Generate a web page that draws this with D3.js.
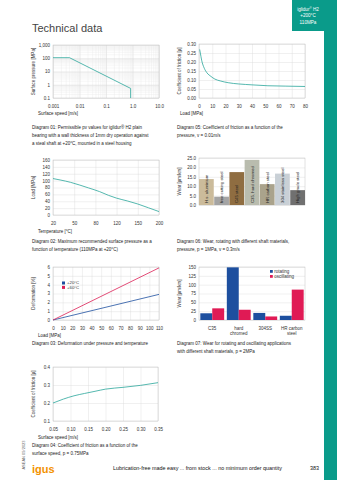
<!DOCTYPE html>
<html>
<head>
<meta charset="utf-8">
<script src="https://cdn.jsdelivr.net/npm/d3@7"></script>
<style>
  body { margin: 0; background: #fff; }
  svg { display: block; font-family: "Liberation Sans", Arial, sans-serif; }
</style>
</head>
<body>
<div id="container"></div>
<script>
/* CONSTANTS AND GLOBALS */
const width = 339;
const height = 480;
const teal = "#0a9b8a";
const lineTeal = "#2aa69a";
const gridCol = "#dadada";
const frameCol = "#c4c4c4";
const textCol = "#333";
const small = 4.5;

/* DATA */
// Diagram 01 - pv limit (log/log)
const pvSpeed = [0.001, 0.0042, 0.85, 0.85];
const pvPressure = [110, 110, 0.53, 0.1];
const pvXTicks = [0.001, 0.01, 0.1, 1, 10];
const pvXLabels = ["0.001", "0.01", "0.1", "1.0", "10.0"];
const pvYTicks = [0.1, 1, 10, 100, 1000];
const pvYLabels = ["0.1", "1", "10", "100", "1,000"];

// Diagram 02 - load vs temperature
const tempTicks = [20, 50, 80, 120, 150, 200];
const tempValues = [20, 30, 45, 58, 70, 88, 105, 120, 135, 150, 175, 200];
const tempLoad = [106, 102, 95, 87, 79, 68, 57, 49, 41, 32, 21, 10];
const tempLoadTicks = [0, 20, 40, 60, 80, 100, 120, 140, 160];

// Diagram 03 - deformation
const defLoad = [0, 110];
const def20 = [0, 2.9];
const def60 = [0, 5.9];
const defXTicks = [0, 10, 20, 30, 40, 50, 60, 70, 80, 90, 100, 110];
const defYTicks = [0, 1, 2, 3, 4, 5, 6];
const defSeries = ["+20°C", "+60°C"];

// Diagram 04 - friction vs speed
const speed04 = [0.05, 0.08, 0.11, 0.14, 0.17, 0.2, 0.25, 0.3, 0.35];
const cof04 = [0.2, 0.222, 0.24, 0.253, 0.265, 0.277, 0.287, 0.298, 0.313];
const speed04Ticks = [0.05, 0.10, 0.15, 0.20, 0.25, 0.30, 0.35];
const cof04Ticks = [0.1, 0.2, 0.3, 0.4];

// Diagram 05 - friction vs load
const load05 = [0.5, 1, 2, 4, 6, 9, 12, 16, 22, 30, 40, 52, 65, 80];
const cof05 = [0.27, 0.25, 0.21, 0.165, 0.14, 0.12, 0.105, 0.095, 0.085, 0.078, 0.073, 0.068, 0.066, 0.064];
const load05Ticks = [0, 10, 20, 30, 40, 50, 60, 70, 80];
const cof05Ticks = [0, 0.05, 0.10, 0.15, 0.20, 0.25, 0.30];

// Diagram 06 - wear, rotating, shaft materials
const shafts06 = ["H.s. aluminium", "free cutting steel", "C45 steel", "C35, hard chromed",
  "HR carbon steel", "304 stainless steel", "High grade steel"];
const wear06 = [13.8, 4.4, 17.5, 24, 11.1, 16.7, 7.9];
const wear06Ticks = [0, 5, 10, 15, 20, 25];

// Diagram 07 - wear rotating / oscillating
const shafts07 = ["C35", "hard chromed", "304SS", "HR carbon steel"];
const shafts07Lines = [["C35"], ["hard", "chromed"], ["304SS"], ["HR carbon", "steel"]];
const rotating07 = [19, 149, 20, 12];
const oscillating07 = [33, 29, 10, 86];
const wear07Ticks = [0, 25, 50, 75, 100, 125, 150];
const series07 = ["rotating", "oscillating"];

/* HTML ELEMENTS */
const svg = d3.select("#container")
  .append("svg")
  .attr("width", width)
  .attr("height", height);

// right teal strip + tab
svg.append("rect").attr("x", 324).attr("y", 0).attr("width", 13).attr("height", height).attr("fill", teal);
svg.append("rect").attr("x", 292).attr("y", 0).attr("width", 45).attr("height", 31).attr("fill", teal);
const tab = svg.append("g").attr("fill", "#fff").attr("font-size", 4.6).attr("text-anchor", "middle");
const t1 = tab.append("text").attr("x", 308).attr("y", 10.5).text("iglidur");
t1.append("tspan").attr("font-size", 3).attr("dy", -1.3).text("®");
t1.append("tspan").attr("dy", 1.3).text(" H2");
tab.append("text").attr("x", 308).attr("y", 17).text("+200°C");
tab.append("text").attr("x", 308).attr("y", 23.5).text("110MPa");

svg.append("text").attr("x", 32).attr("y", 32).attr("font-size", 11).attr("fill", "#444")
  .text("Technical data");

/* HELPERS */
function frame(x, y) {
  svg.append("rect")
    .attr("x", x.range()[0]).attr("y", y.range()[1])
    .attr("width", x.range()[x.range().length - 1] - x.range()[0])
    .attr("height", y.range()[0] - y.range()[1])
    .attr("fill", "none").attr("stroke", frameCol).attr("stroke-width", 0.5);
}

function vGrid(x, y, values, col) {
  svg.append("g")
    .attr("transform", `translate(0,${y.range()[0]})`)
    .call(d3.axisBottom(x).tickValues(values).tickSize(-(y.range()[0] - y.range()[1])).tickFormat(""))
    .call(g => g.select(".domain").remove())
    .call(g => g.selectAll("line").attr("stroke", col || gridCol).attr("stroke-width", 0.4));
}

function hGrid(x, y, values, col) {
  const x0 = x.range()[0], x1 = x.range()[x.range().length - 1];
  svg.append("g")
    .attr("transform", `translate(${x0},0)`)
    .call(d3.axisLeft(y).tickValues(values).tickSize(-(x1 - x0)).tickFormat(""))
    .call(g => g.select(".domain").remove())
    .call(g => g.selectAll("line").attr("stroke", col || gridCol).attr("stroke-width", 0.4));
}

function xLabels(x, y, values, fmt) {
  svg.append("g")
    .attr("transform", `translate(0,${y.range()[0]})`)
    .call(d3.axisBottom(x).tickValues(values).tickSize(0).tickPadding(7.2).tickFormat(fmt))
    .call(g => g.select(".domain").remove())
    .attr("font-size", small).attr("font-family", null)
    .call(g => g.selectAll("text").attr("fill", textCol));
}

function yLabels(x, y, values, fmt) {
  svg.append("g")
    .attr("transform", `translate(${x.range()[0]},0)`)
    .call(d3.axisLeft(y).tickValues(values).tickSize(0).tickPadding(3).tickFormat(fmt))
    .call(g => g.select(".domain").remove())
    .attr("font-size", small).attr("font-family", null)
    .call(g => g.selectAll("text").attr("fill", textCol));
}

function yTitle(xPos, y, label) {
  svg.append("text")
    .attr("transform", `translate(${xPos},${(y.range()[0] + y.range()[1]) / 2}) rotate(-90)`)
    .attr("text-anchor", "middle").attr("font-size", small).attr("fill", textCol)
    .text(label);
}

function plainText(xPos, yPos, lines, size) {
  lines.forEach((l, i) => {
    svg.append("text").attr("x", xPos).attr("y", yPos + i * 8.4)
      .attr("font-size", size || small).attr("fill", "#222").text(l);
  });
}

function curve(x, y, xs, ys, col) {
  svg.append("path")
    .datum(xs.map((d, i) => [d, ys[i]]))
    .attr("fill", "none").attr("stroke", col).attr("stroke-width", 0.8)
    .attr("d", d3.line().x(d => x(d[0])).y(d => y(d[1])).curve(d3.curveMonotoneX));
}

/* DIAGRAM 01 */
{
  const x = d3.scaleLog().domain([0.001, 10]).range([53, 159]);
  const y = d3.scaleLog().domain([0.1, 1000]).range([98, 45]);
  vGrid(x, y, x.ticks(), "#ececec");
  hGrid(x, y, y.ticks(), "#ececec");
  vGrid(x, y, pvXTicks);
  hGrid(x, y, pvYTicks);
  frame(x, y);
  xLabels(x, y, pvXTicks, (d, i) => pvXLabels[i]);
  yLabels(x, y, pvYTicks, (d, i) => pvYLabels[i]);
  svg.append("path")
    .datum(pvSpeed.map((d, i) => [d, pvPressure[i]]))
    .attr("fill", "none").attr("stroke", lineTeal).attr("stroke-width", 0.8)
    .attr("d", d3.line().x(d => x(d[0])).y(d => y(d[1])));
  yTitle(35, y, "Surface pressure [MPa]");
  plainText(38, 114.5, ["Surface speed [m/s]"]);
  plainText(32, 128.5, ["Diagram 01: Permissible pv values for iglidur® H2 plain",
    "bearing with a wall thickness of 1mm dry operation against",
    "a steal shaft at +20°C, mounted in a steel housing"]);
}

/* DIAGRAM 05 */
{
  const x = d3.scaleLinear().domain([0, 80]).range([199, 305]);
  const y = d3.scaleLinear().domain([0, 0.30]).range([98, 44]);
  vGrid(x, y, load05Ticks);
  hGrid(x, y, cof05Ticks);
  frame(x, y);
  xLabels(x, y, load05Ticks, d3.format("d"));
  yLabels(x, y, cof05Ticks, d3.format(".2f"));
  curve(x, y, load05, cof05, lineTeal);
  yTitle(181, y, "Coefficient of friction [µ]");
  plainText(180, 114.5, ["Load [MPa]"]);
  plainText(177, 128.5, ["Diagram 05: Coefficient of friction as a function of the",
    "pressure, v = 0.01m/s"]);
}

/* DIAGRAM 02 */
{
  const x = d3.scaleLinear().domain(tempTicks)
    .range(tempTicks.map((d, i) => 53 + i * (106 / (tempTicks.length - 1))));
  const y = d3.scaleLinear().domain([0, 160]).range([215, 160]);
  vGrid(x, y, tempTicks);
  hGrid(x, y, tempLoadTicks);
  frame(x, y);
  xLabels(x, y, tempTicks, d3.format("d"));
  yLabels(x, y, tempLoadTicks, d3.format("d"));
  curve(x, y, tempValues, tempLoad, lineTeal);
  yTitle(35, y, "Load [MPa]");
  plainText(38, 233, ["Temperature [°C]"]);
  plainText(32, 242.5, ["Diagram 02: Maximum recommended surface pressure as a",
    "function of temperature (110MPa at +20°C)"]);
}

/* DIAGRAM 06 */
{
  const x = d3.scaleBand().domain(shafts06).range([199, 305]).paddingInner(0.03);
  const y = d3.scaleLinear().domain([0, 25]).range([205, 158]);
  const color = d3.scaleOrdinal().domain(shafts06)
    .range(["#cbbb9b", "#a4a4a4", "#8f6d41", "#b9bcae", "#aaa38c", "#c9d0d6", "#707070"]);
  hGrid(d3.scaleLinear().range([199, 305]), y, wear06Ticks);
  frame(d3.scaleLinear().range([199, 305]), y);
  yLabels(d3.scaleLinear().range([199, 305]), y, wear06Ticks, d3.format(".1f"));
  svg.append("g").selectAll("rect")
    .data(shafts06)
    .join("rect")
    .attr("x", d => x(d))
    .attr("y", (d, i) => y(wear06[i]))
    .attr("width", x.bandwidth())
    .attr("height", (d, i) => y(0) - y(wear06[i]))
    .attr("fill", d => color(d));
  svg.append("g").selectAll("text")
    .data(shafts06)
    .join("text")
    .attr("transform", d => `translate(${x(d) + x.bandwidth() / 2 + 1.6},${y(0) - 2}) rotate(-90)`)
    .attr("font-size", 4.3).attr("fill", "#222")
    .text(d => d);
  yTitle(181, y, "Wear [µm/km]");
  plainText(177, 242.5, ["Diagram 06: Wear, rotating with different shaft materials,",
    "pressure, p = 1MPa, v = 0.3m/s"]);
}

/* DIAGRAM 03 */
{
  const x = d3.scaleLinear().domain([0, 110]).range([53, 159]);
  const y = d3.scaleLinear().domain([0, 6]).range([320, 267]);
  const color = d3.scaleOrdinal().domain(defSeries).range(["#1d4f9f", "#dc1f55"]);
  vGrid(x, y, defXTicks);
  hGrid(x, y, defYTicks);
  frame(x, y);
  xLabels(x, y, defXTicks, d3.format("d"));
  yLabels(x, y, defYTicks, d3.format("d"));
  curve(x, y, defLoad, def20, color(defSeries[0]));
  curve(x, y, defLoad, def60, color(defSeries[1]));
  const lg = svg.append("g").selectAll("g").data(defSeries).join("g")
    .attr("transform", (d, i) => `translate(62,${281.5 + i * 4.4})`);
  lg.append("rect").attr("width", 3).attr("height", 3).attr("fill", d => color(d));
  lg.append("text").attr("x", 5).attr("y", 2.8).attr("font-size", 4.3).attr("fill", textCol).text(d => d);
  yTitle(35, y, "Deformation [%]");
  plainText(38, 336.5, ["Load [MPa]"]);
  plainText(32, 344.5, ["Diagram 03: Deformation under pressure and temperature"]);
}

/* DIAGRAM 07 */
{
  const x = d3.scaleBand().domain(shafts07).range([199, 305]).paddingInner(0.1).paddingOuter(0.05);
  const xs = d3.scaleBand().domain(series07).range([0, x.bandwidth()]);
  const y = d3.scaleLinear().domain([0, 150]).range([320, 267]);
  const color = d3.scaleOrdinal().domain(series07).range(["#1d4f9f", "#e01a55"]);
  const lin = d3.scaleLinear().range([199, 305]);
  hGrid(lin, y, wear07Ticks);
  frame(lin, y);
  yLabels(lin, y, wear07Ticks, d3.format("d"));
  const values = { rotating: rotating07, oscillating: oscillating07 };
  const grp = svg.append("g").selectAll("g").data(shafts07).join("g")
    .attr("transform", d => `translate(${x(d)},0)`);
  grp.selectAll("rect")
    .data((d, i) => series07.map(s => ({ s, v: values[s][i] })))
    .join("rect")
    .attr("x", d => xs(d.s))
    .attr("y", d => y(d.v))
    .attr("width", xs.bandwidth())
    .attr("height", d => y(0) - y(d.v))
    .attr("fill", d => color(d.s));
  grp.selectAll("text")
    .data((d, i) => shafts07Lines[i])
    .join("text")
    .attr("x", x.bandwidth() / 2)
    .attr("y", (d, i) => 329.5 + i * 5)
    .attr("text-anchor", "middle").attr("font-size", small).attr("fill", textCol)
    .text(d => d);
  const lg = svg.append("g").selectAll("g").data(series07).join("g")
    .attr("transform", (d, i) => `translate(270,${270 + i * 5})`);
  lg.append("rect").attr("width", 2.8).attr("height", 2.8).attr("fill", d => color(d));
  lg.append("text").attr("x", 4.2).attr("y", 2.7).attr("font-size", small).attr("fill", textCol).text(d => d);
  yTitle(181, y, "Wear [µm/km]");
  plainText(177, 344.5, ["Diagram 07: Wear for rotating and oscillating applications",
    "with different shaft materials, p = 2MPa"]);
}

/* DIAGRAM 04 */
{
  const x = d3.scaleLinear().domain([0.05, 0.35]).range([53, 158]);
  const y = d3.scaleLinear().domain([0.1, 0.4]).range([421, 367]);
  vGrid(x, y, speed04Ticks);
  hGrid(x, y, cof04Ticks);
  frame(x, y);
  xLabels(x, y, speed04Ticks, d3.format(".2f"));
  yLabels(x, y, cof04Ticks, d3.format(".1f"));
  curve(x, y, speed04, cof04, lineTeal);
  yTitle(35, y, "Coefficient of friction [µ]");
  plainText(38, 439, ["Surface speed [m/s]"]);
  plainText(32, 446.5, ["Diagram 04: Coefficient of friction as a function of the",
    "surface speed, p = 0.75MPa"]);
}

/* FOOTER */
svg.append("text")
  .attr("transform", "translate(25,455) rotate(-90)")
  .attr("text-anchor", "middle").attr("font-size", 4).attr("fill", "#666")
  .text("ASEAN 09/2023");
svg.append("text").attr("x", 32).attr("y", 473).attr("font-size", 11).attr("font-weight", "bold")
  .attr("fill", "#f39200").text("igus");
svg.append("text").attr("x", 113).attr("y", 470).attr("font-size", 5.4).attr("fill", "#111")
  .text("Lubrication-free made easy ... from stock ... no minimum order quantity");
svg.append("text").attr("x", 310).attr("y", 470).attr("font-size", 5.4).attr("fill", "#111")
  .text("383");
</script>
</body>
</html>
